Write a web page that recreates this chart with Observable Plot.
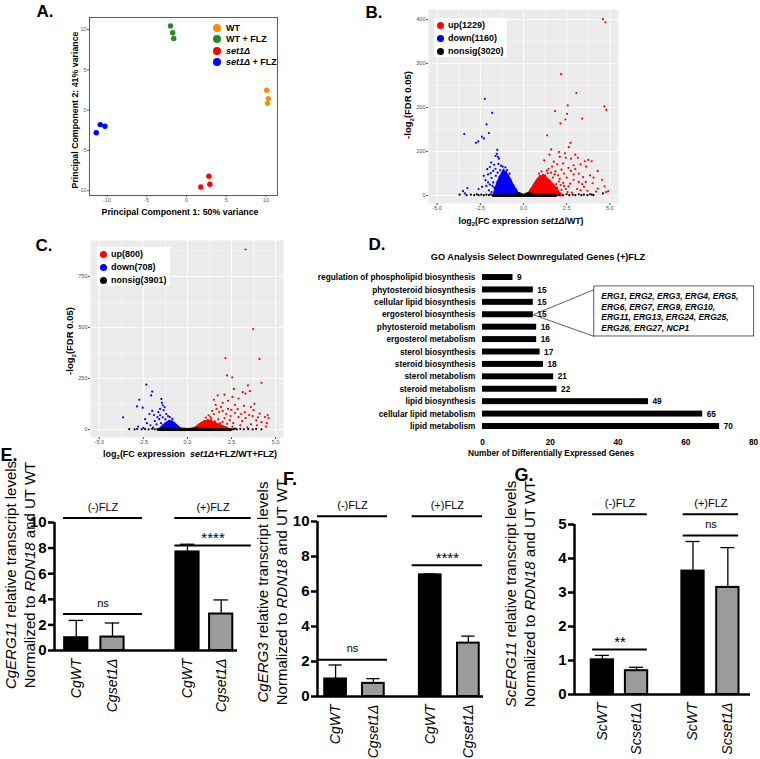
<!DOCTYPE html>
<html><head><meta charset="utf-8">
<script src="https://cdn.jsdelivr.net/npm/d3@7"></script>
<script src="https://cdn.jsdelivr.net/npm/@observablehq/plot@0.6"></script>
<style>
body{margin:0;background:#fff;font-family:"Liberation Sans",Arial,Helvetica,sans-serif;}
#root{position:relative;width:760px;height:759px;overflow:hidden;background:#fff;}
.lbl{position:absolute;white-space:nowrap;line-height:1;}
</style></head><body><div id="root"></div>
<script>
// ---------------- DATA ----------------
// Panel A (PCA)
const pcaGroups = ["WT", "WT + FLZ", "set1Δ", "set1Δ + FLZ"];
const pcaGroupOf = ["WT","WT","WT","WT + FLZ","WT + FLZ","WT + FLZ","set1Δ","set1Δ","set1Δ","set1Δ + FLZ","set1Δ + FLZ","set1Δ + FLZ"];
const pcaPC1 = [10.1, 10.3, 10.2, -2.0, -1.73, -1.6, 2.83, 2.95, 1.81, -10.85, -10.25, -11.35];
const pcaPC2 = [2.46, 1.43, 0.84, 10.46, 9.6, 8.9, -8.2, -9.2, -9.55, -1.8, -2.0, -2.8];
const pcaTicks = [-10, -5, 0, 5, 10];

// Panel B (volcano set1Δ/WT)
const bCounts = {up: 1229, down: 1160, nonsig: 3020};
const bUp = [[4.6,401],[4.74,394],[2.18,276],[3.06,233],[4.68,203],[4.8,195],[2.56,205],[1.83,192],[2.52,186],[3.39,175],[2.43,173],[2.14,164],[1.37,137],[2.72,120],[2.62,110],[1.6,105],[2.05,99],[2.4,96],[3.0,93],[2.1,88],[2.45,86],[2.75,84],[3.15,86],[3.55,78],[3.75,81],[3.95,78],[3.3,71],[3.62,66],[2.9,69],[1.5,93],[1.2,80],[1.75,77],[1.95,71],[2.3,73],[4.3,56],[3.85,46],[4.05,41],[3.2,50],[2.75,56],[2.2,59],[1.85,55],[1.45,61],[4.55,36],[4.7,21],[4.9,10],[4.78,8],[4.3,16],[3.6,31],[3.4,26],[2.9,36],[2.5,41],[2.0,46],[1.7,41],[2.6,21],[3.1,15],[3.7,11],[2.3,29],[1.9,26],[2.2,13],[1.8,11],[2.8,7],[3.2,31],[2.6,63],[1.65,66],[1.4,51],[1.25,46],[2.35,50],[2.9,48],[3.45,42],[3.0,60],[1.55,30],[2.45,15],[3.5,20],[4.0,28],[1.3,20],[1.15,35],[2.05,32],[2.7,27],[3.3,12],[4.2,9],[1.05,55],[1.35,57],[1.6,52],[1.8,48],[2.1,38],[2.35,22],[2.55,8],[0.9,50],[1.95,18],[2.15,24]];
const bUpCore = [[0.15,0],[0.25,5],[0.33,10],[0.42,16],[0.5,20],[0.58,26],[0.66,30],[0.75,36],[0.85,40],[0.95,46],[1.05,44],[1.12,49],[1.2,45],[1.3,43],[1.4,38],[1.5,36],[1.6,31],[1.7,27],[1.8,23],[1.9,17],[2.0,12],[2.1,7],[2.2,3],[2.3,0]];
const bDown = [[-2.24,220],[-1.81,188],[-2.14,162],[-2.0,142],[-3.43,140],[-2.41,134],[-2.62,123],[-2.75,120],[-2.3,130],[-1.52,104],[-1.55,95],[-1.62,90],[-1.48,88],[-1.42,84],[-1.87,75],[-1.7,70],[-1.95,65],[-2.1,60],[-1.75,56],[-2.05,48],[-1.85,40],[-2.2,35],[-1.95,25],[-2.4,20],[-3.25,17],[-3.5,10],[-3.4,5],[-1.45,72],[-1.3,68],[-1.62,61],[-1.9,51],[-2.3,45],[-2.6,15],[-2.0,12],[-1.85,8],[-1.2,66],[-1.05,64],[-1.6,45],[-1.75,30],[-2.15,22],[-1.5,52],[-1.35,58],[-0.95,58],[-0.8,50],[-1.7,18],[-1.8,22],[-2.05,30]];
const bDownCore = [[-0.15,0],[-0.25,4],[-0.35,9],[-0.42,15],[-0.5,18],[-0.58,25],[-0.65,28],[-0.72,36],[-0.8,40],[-0.88,47],[-0.95,50],[-1.02,56],[-1.1,54],[-1.15,60],[-1.22,55],[-1.28,52],[-1.33,46],[-1.4,44],[-1.45,37],[-1.52,33],[-1.57,26],[-1.62,20],[-1.68,13],[-1.72,6],[-1.75,0]];
const bNon = [[-3.7,2],[-3.3,1],[-3.05,2],[-2.85,1],[-2.6,1],[-2.45,2],[-2.3,1],[-2.15,2],[-2.0,1],[-1.9,3],[-1.8,1],[-2.7,3],[2.05,2],[2.3,1],[2.5,3],[2.65,1],[2.85,2],[3.0,1],[3.2,3],[3.35,1],[3.5,2],[3.7,1],[3.85,3],[3.95,2],[4.6,5],[4.05,1],[1.9,1]];
const bNonCore = [[-1.8,-1],[-1.8,3],[-1.0,4],[-0.5,5],[-0.25,7],[0,3],[0.25,7],[0.5,5],[1.0,4],[1.9,3],[1.9,-1]];
const bYTicks = [0, 100, 200, 300, 400];
const bYMinor = [50, 150, 250, 350];

// Panel C (volcano set1Δ+FLZ/WT+FLZ)
const cCounts = {up: 800, down: 708, nonsig: 3901};
const cUp = [[3.3,882],[3.73,492],[2.16,350],[4.09,346],[2.25,265],[2.54,256],[4.2,229],[3.43,216],[2.63,199],[3.54,188],[3.14,183],[3.3,176],[1.72,167],[2.1,171],[2.55,160],[2.9,152],[2.3,141],[3.8,126],[2.0,131],[1.5,146],[1.6,121],[2.7,121],[3.2,116],[3.6,111],[4.4,61],[4.55,71],[4.5,31],[4.45,15],[4.0,60],[3.9,45],[3.7,66],[3.5,71],[3.3,56],[3.1,41],[2.9,61],[2.7,81],[2.5,96],[2.3,101],[2.2,76],[2.0,91],[1.9,111],[1.8,86],[1.65,101],[1.5,76],[1.4,91],[1.3,61],[4.2,36],[3.95,21],[3.6,26],[3.4,11],[3.0,21],[2.6,31],[2.4,46],[2.1,56],[4.6,56],[3.75,95],[2.85,100],[3.25,85],[1.75,50],[1.55,40],[2.45,66],[3.05,76],[4.1,78],[1.2,70],[1.05,58],[1.35,52],[2.0,38],[2.25,28],[1.85,32],[2.55,14]];
const cUpCore = [[0.2,0],[0.28,5],[0.35,8],[0.45,14],[0.55,20],[0.63,26],[0.72,31],[0.8,36],[0.9,40],[0.98,45],[1.08,43],[1.15,49],[1.25,45],[1.35,44],[1.45,38],[1.55,36],[1.65,31],[1.8,27],[1.9,22],[2.05,17],[2.2,12],[2.35,6],[2.5,2],[2.6,0]];
const cDown = [[-2.33,220],[-2.0,186],[-2.06,167],[-2.73,146],[-2.86,113],[-2.54,107],[-3.65,60],[-1.48,150],[-1.45,131],[-1.4,119],[-1.55,101],[-1.35,95],[-2.0,91],[-2.15,76],[-1.9,71],[-1.7,61],[-1.6,51],[-1.2,76],[-1.1,66],[-2.8,15],[-2.3,31],[-2.1,21],[-1.85,41],[-1.5,31],[-1.0,61],[-2.4,51],[-1.3,110],[-1.65,85],[-1.75,25],[-1.25,50],[-1.95,10],[-2.5,8],[-0.85,52],[-1.55,70],[-1.4,60]];
const cDownCore = [[-0.3,0],[-0.38,5],[-0.45,10],[-0.52,17],[-0.6,24],[-0.68,29],[-0.75,35],[-0.82,38],[-0.9,44],[-0.97,42],[-1.03,46],[-1.1,41],[-1.18,37],[-1.25,33],[-1.32,27],[-1.4,23],[-1.47,15],[-1.55,10],[-1.6,3],[-1.58,0]];
const cNon = [[-3.3,2],[-3.0,1],[-2.85,3],[-2.6,1],[-2.4,2],[-2.2,1],[-2.0,3],[-1.85,1],[-1.7,2],[2.6,2],[2.8,1],[3.0,3],[3.2,1],[3.45,2],[3.7,1],[3.9,3],[4.2,1],[2.7,4]];
const cNonCore = [[-1.7,-3],[-1.7,4],[-0.9,6],[-0.4,8],[0,5],[0.4,8],[0.9,6],[2.5,4],[2.5,-3]];
const cYTicks = [0, 250, 500, 750];
const cYMinor = [125, 375, 625, 875];
const volcXTicks = [-5, -2.5, 0, 2.5, 5];
const volcXMinor = [-3.75, -1.25, 1.25, 3.75];

// Panel D (GO analysis)
const goTerms = ["regulation of phospholipid biosynthesis","phytosteroid biosynthesis","cellular lipid biosynthesis","ergosterol biosynthesis","phytosteroid metabolism","ergosterol metabolism","sterol biosynthesis","steroid biosynthesis","sterol metabolism","steroid metabolism","lipid biosynthesis","cellular lipid metabolism","lipid metabolism"];
const goCounts = [9, 15, 15, 15, 16, 16, 17, 18, 21, 22, 49, 65, 70];
const goTicks = [0, 20, 40, 60, 80];
const goCalloutTerm = "ergosterol biosynthesis";
const goCalloutGenes = ["ERG1, ERG2, ERG3, ERG4, ERG5,", "ERG6, ERG7, ERG9, ERG10,", "ERG11, ERG13, ERG24, ERG25,", "ERG26, ERG27, NCP1"];

// Panels E, F, G (qPCR)
const eCats = ["CgWT", "Cgset1Δ", "CgWT", "Cgset1Δ"];
const eMeans = [1.0, 1.05, 7.7, 2.85];
const eErrTop = [2.35, 2.15, 8.3, 3.95];
const fCats = ["CgWT", "Cgset1Δ", "CgWT", "Cgset1Δ"];
const fMeans = [1.0, 0.75, 6.95, 3.05];
const fErrTop = [1.8, 1.02, 7.0, 3.45];
const gCats = ["ScWT", "Scset1Δ", "ScWT", "Scset1Δ"];
const gMeans = [1.02, 0.7, 3.63, 3.15];
const gErrTop = [1.15, 0.8, 4.5, 4.32];
const eTicks = [0, 2, 4, 6, 8, 10];
const fTicks = [0, 2, 4, 6, 8, 10];
const gTicks = [0, 1, 2, 3, 4, 5];
const eSig = [{t:"(-)FLZ", y:10.35, a:0, b:1}, {t:"(+)FLZ", y:10.35, a:2, b:3}, {t:"****", y:8.2, a:2, b:3}, {t:"ns", y:2.85, a:0, b:1}];
const fSig = [{t:"(-)FLZ", y:10.3, a:0, b:1}, {t:"(+)FLZ", y:10.3, a:2, b:3}, {t:"****", y:7.5, a:2, b:3}, {t:"ns", y:2.1, a:0, b:1}];
const gSig = [{t:"(-)FLZ", y:5.3, a:0, b:1}, {t:"(+)FLZ", y:5.3, a:2, b:3}, {t:"ns", y:4.68, a:2, b:3}, {t:"**", y:1.32, a:0, b:1}];

// ---------------- HELPERS ----------------
const FONT = '"Liberation Sans", Arial, Helvetica, sans-serif';
const root = document.getElementById("root");
function put(node, left, top) {
  node.style.position = "absolute"; node.style.left = left + "px"; node.style.top = top + "px";
  root.appendChild(node); return node;
}
function label(html, cx, cy, o = {}) {
  const d = document.createElement("div");
  d.className = "lbl";
  d.innerHTML = html;
  d.style.fontSize = (o.size || 9) + "px";
  d.style.fontWeight = o.weight || "bold";
  if (o.lh) d.style.lineHeight = o.lh + "px";
  d.style.textAlign = "center";
  d.style.color = o.color || "#000";
  d.style.transform = "translate(-50%,-50%)" + (o.rot ? " rotate(-90deg)" : "");
  d.style.left = cx + "px"; d.style.top = cy + "px";
  root.appendChild(d); return d;
}
const baseStyle = {fontFamily: FONT, background: "none", overflow: "visible"};
const pts = a => a.map(([x, y]) => ({x, y}));
const fmtInt = d => String(d);

// ---------------- PANEL A ----------------
const pcaColor = {"WT": "#ff8c00", "WT + FLZ": "#228b22", "set1Δ": "#ff0000", "set1Δ + FLZ": "#0000ff"};
const pcaRows = pcaPC1.map((v, i) => ({pc1: v, pc2: pcaPC2[i], g: pcaGroupOf[i]}));
put(Plot.plot({
  width: 260, height: 220, marginLeft: 59, marginRight: 13, marginTop: 17, marginBottom: 25,
  x: {domain: [-12.2, 11.46]}, y: {domain: [-10.6, 11.5]},
  style: baseStyle,
  marks: [
    Plot.frame({stroke: "#333", strokeWidth: 0.8}),
    Plot.axisX({ticks: pcaTicks, tickFormat: fmtInt, tickSize: 2, tickPadding: 1, fontSize: 5.5, color: "#555", label: null}),
    Plot.axisY({ticks: pcaTicks, tickFormat: fmtInt, tickSize: 2, tickPadding: 1, fontSize: 5.5, color: "#555", label: null}),
    Plot.dot(pcaRows, {x: "pc1", y: "pc2", r: 2.7, fill: d => pcaColor[d.g], stroke: "none"})
  ]
}), 30, 0);
label("A.", 45, 11, {size: 17});
label("Principal Component 2: 41% variance", 75, 110, {size: 8.8, rot: true});
label("Principal Component 1: 50% variance", 180, 212, {size: 8.8});
pcaGroups.forEach((g, i) => {
  const y = 28 + i * 11.4;
  const c = document.createElement("div");
  c.style.cssText = `width:8px;height:8px;border-radius:50%;background:${pcaColor[g]}`;
  put(c, 213, y - 4);
  const html = g.startsWith("set1Δ") ? "<i>set1Δ</i>" + g.slice(5) : g;
  const t = label(html, 0, y, {size: 9});
  t.style.transform = "translate(0,-50%)"; t.style.left = "226px";
});

// ---------------- VOLCANO HELPER ----------------
function volcano(cfg) {
  return Plot.plot({
    width: cfg.w, height: cfg.h, marginLeft: cfg.ml, marginRight: cfg.mr, marginTop: cfg.mt, marginBottom: cfg.mb,
    x: {domain: cfg.xd}, y: {domain: cfg.yd},
    style: baseStyle,
    marks: [
      Plot.frame({fill: "#ebebeb", stroke: "none"}),
      Plot.ruleX(volcXMinor, {stroke: "#fff", strokeWidth: 0.45}),
      Plot.ruleY(cfg.yMinor, {stroke: "#fff", strokeWidth: 0.45}),
      Plot.ruleX(volcXTicks, {stroke: "#fff", strokeWidth: 0.9}),
      Plot.ruleY(cfg.yTicks, {stroke: "#fff", strokeWidth: 0.9}),
      Plot.axisX({ticks: volcXTicks, tickFormat: d => d.toFixed(1), tickSize: 2, tickPadding: 1, fontSize: 5.5, color: "#4d4d4d", label: null}),
      Plot.axisY({ticks: cfg.yTicks, tickFormat: fmtInt, tickSize: 2, tickPadding: 1, fontSize: 5.5, color: "#4d4d4d", label: null}),
      Plot.line(pts(cfg.upCore), {x: "x", y: "y", curve: "linear-closed", fill: "#ff0000", stroke: "#ff0000", strokeWidth: 1.2}),
      Plot.line(pts(cfg.downCore), {x: "x", y: "y", curve: "linear-closed", fill: "#0000ff", stroke: "#0000ff", strokeWidth: 1.2}),
      Plot.dot(pts(cfg.up), {x: "x", y: "y", r: 1.1, fill: "#ff0000", stroke: "none"}),
      Plot.dot(pts(cfg.down), {x: "x", y: "y", r: 1.1, fill: "#0000ff", stroke: "none"}),
      Plot.line(pts(cfg.nonCore), {x: "x", y: "y", curve: "linear-closed", fill: "#000", stroke: "#000", strokeWidth: 1}),
      Plot.dot(pts(cfg.non), {x: "x", y: "y", r: 1.1, fill: "#000", stroke: "none"})
    ]
  });
}
function volcLegend(counts, left, top) {
  const box = document.createElement("div");
  box.style.cssText = "width:73px;height:39px;background:#fff;";
  put(box, left, top);
  [["up", "#ff0000"], ["down", "#0000ff"], ["nonsig", "#000"]].forEach(([k, col], i) => {
    const y = top + 7 + i * 13;
    const c = document.createElement("div");
    c.style.cssText = `width:7px;height:7px;border-radius:50%;background:${col}`;
    put(c, left + 3, y - 3.5);
    const t = label(`${k}(${counts[k]})`, 0, y, {size: 9});
    t.style.transform = "translate(0,-50%)"; t.style.left = (left + 14) + "px";
  });
}

// ---------------- PANEL B ----------------
put(volcano({w: 250, h: 215, ml: 48, mr: 12, mt: 9, mb: 12, xd: [-5.5, 5.5], yd: [-18, 423],
  yTicks: bYTicks, yMinor: bYMinor, up: bUp, upCore: bUpCore, down: bDown, downCore: bDownCore, non: bNon, nonCore: bNonCore}), 380, 0);
volcLegend(bCounts, 434, 18);
label("B.", 374, 12, {size: 17});
label("-log<sub style='font-size:6px'>2</sub>(FDR 0.05)", 409, 105, {size: 9.5, rot: true});
label("log<sub style='font-size:6px'>2</sub>(FC expression <i>set1Δ</i>/WT)", 521, 222, {size: 8.8});

// ---------------- PANEL C ----------------
put(volcano({w: 250, h: 225, ml: 50, mr: 7, mt: 15, mb: 13, xd: [-5.5, 5.45], yd: [-39, 926],
  yTicks: cYTicks, yMinor: cYMinor, up: cUp, upCore: cUpCore, down: cDown, downCore: cDownCore, non: cNon, nonCore: cNonCore}), 40, 225);
volcLegend(cCounts, 97, 247);
label("C.", 44, 245, {size: 17});
label("-log<sub style='font-size:6px'>2</sub>(FDR 0.05)", 71, 341, {size: 9.5, rot: true});
label("log<sub style='font-size:6px'>2</sub>(FC expression&nbsp; <i>set1Δ</i>+FLZ/WT+FLZ)", 190, 455, {size: 9});

// ---------------- PANEL D ----------------
const goRows = goTerms.map((t, i) => ({term: t, n: goCounts[i], i}));
const ci = goTerms.indexOf(goCalloutTerm);
const callout = {x0: goCounts[ci], y0: ci, bx1: 33, bx2: 80.2, by1: 0.72, by2: 4.75, text: goCalloutGenes.join("\n")};
put(Plot.plot({
  width: 470, height: 230, marginLeft: 192, marginRight: 7, marginTop: 45.8, marginBottom: 22.8,
  x: {domain: [0, 80]}, y: {domain: [12.5, -0.5], axis: null},
  style: baseStyle,
  marks: [
    Plot.rect(goRows, {x1: 0, x2: "n", y1: d => d.i - 0.24, y2: d => d.i + 0.24, fill: "#000"}),
    Plot.text(goRows, {x: "n", y: "i", text: d => String(d.n), dx: 4, textAnchor: "start", fontSize: 8.3, fontWeight: "bold"}),
    Plot.text(goRows, {x: 0, y: "i", text: "term", dx: -7, textAnchor: "end", fontSize: 8.3, fontWeight: "bold"}),
    Plot.axisX({ticks: goTicks, tickFormat: fmtInt, tickSize: 0, tickPadding: 6, fontSize: 8.3, fontWeight: "bold", label: null}),
    Plot.link([callout], {x1: "x0", y1: "y0", x2: "bx1", y2: d => d.by1 + 0.25, stroke: "#333", strokeWidth: 0.8}),
    Plot.link([callout], {x1: "x0", y1: "y0", x2: "bx1", y2: "by2", stroke: "#333", strokeWidth: 0.8}),
    Plot.rect([callout], {x1: "bx1", x2: "bx2", y1: "by1", y2: "by2", fill: "#fff", stroke: "#333", strokeWidth: 0.8}),
    Plot.text([callout], {x: "bx1", y: d => (d.by1 + d.by2) / 2, text: "text", dx: 7, textAnchor: "start", lineHeight: 1.27, fontSize: 8.5, fontWeight: "bold", fontStyle: "italic"})
  ]
}), 290, 225);
label("D.", 377, 244, {size: 17});
label("GO Analysis Select Downregulated Genes (+)FLZ", 538, 258, {size: 9.2});
label("Number of Differentially Expressed Genes", 551, 453, {size: 8.3});

// ---------------- BAR PANELS ----------------
function barPanel(cfg) {
  const rows = cfg.cats.map((c, i) => ({cat: c, mean: cfg.means[i], top: cfg.tops[i], pos: cfg.pos[i], i}));
  const sig = cfg.sig.map(s => ({...s, x1: cfg.pos[s.a] + cfg.sx[0], x2: cfg.pos[s.b] + cfg.sx[1]}));
  const stars = sig.filter(s => s.t.startsWith("*"));
  const words = sig.filter(s => !s.t.startsWith("*"));
  const x0 = cfg.xd[0];
  return Plot.plot({
    width: cfg.w, height: cfg.h, marginLeft: cfg.ml, marginRight: cfg.mr, marginTop: cfg.mt, marginBottom: cfg.mb,
    x: {domain: cfg.xd, axis: null}, y: {domain: [0, cfg.ymax], axis: null},
    style: baseStyle,
    marks: [
      Plot.ruleX(rows, {x: "pos", y1: "mean", y2: "top", strokeWidth: 1.3}),
      Plot.ruleY(rows, {y: "top", x1: d => d.pos - cfg.cap, x2: d => d.pos + cfg.cap, strokeWidth: 1.3}),
      Plot.rect(rows.filter(d => d.i % 2 === 0), {x1: d => d.pos - cfg.hw, x2: d => d.pos + cfg.hw, y1: 0, y2: "mean", fill: "#000", stroke: "#000", strokeWidth: 2}),
      Plot.rect(rows.filter(d => d.i % 2 === 1), {x1: d => d.pos - cfg.hw, x2: d => d.pos + cfg.hw, y1: 0, y2: "mean", fill: "#9c9c9c", stroke: "#000", strokeWidth: 2}),
      Plot.ruleX([x0], {y1: 0, y2: cfg.ymax, strokeWidth: 2.5}),
      Plot.ruleY([0], {x1: x0, x2: cfg.xd[1], strokeWidth: 2.5}),
      Plot.axisY({ticks: cfg.ticks, tickFormat: fmtInt, tickSize: 6, tickPadding: 2, fontSize: 15, fontWeight: "bold", strokeWidth: 2.5, label: null}),
      Plot.text(rows, {x: "pos", y: 0, text: "cat", rotate: -90, textAnchor: "end", dy: 8, fontStyle: "italic", fontSize: 14}),
      Plot.ruleY(sig, {y: "y", x1: "x1", x2: "x2", strokeWidth: 2}),
      Plot.text(words, {x: d => (d.x1 + d.x2) / 2, y: "y", text: "t", dy: -11, fontSize: 11}),
      Plot.text(stars, {x: d => (d.x1 + d.x2) / 2, y: "y", text: "t", dy: -7, fontSize: 15, letterSpacing: 1})
    ]
  });
}

// E
put(barPanel({w: 250, h: 319, ml: 54, mr: 13, mt: 82, mb: 109, xd: [0.4, 5.45], ymax: 10, ticks: eTicks,
  cats: eCats, means: eMeans, tops: eErrTop, pos: [1, 2, 4.07, 5.0], hw: 0.32, cap: 0.2, sig: eSig, sx: [-0.35, 0.83]}), 0, 440);
label("E.", 9, 455, {size: 18});
label("<i>CgERG11</i> relative transcript levels<br>Normalized to <i>RDN18</i> and UT WT", 20, 575, {size: 15, weight: "normal", lh: 19, rot: true});

// F
put(barPanel({w: 250, h: 319, ml: 67, mr: 17, mt: 81, mb: 63, xd: [0.4, 5.45], ymax: 10, ticks: fTicks,
  cats: fCats, means: fMeans, tops: fErrTop, pos: [0.95, 2.1, 3.83, 4.99], hw: 0.33, cap: 0.2, sig: fSig, sx: [-0.55, 0.43]}), 250, 440);
label("F.", 290, 479, {size: 18});
label("<i>CgERG3</i> relative transcript levels<br>Normalized to <i>RDN18</i> and UT WT", 272, 592, {size: 15, weight: "normal", lh: 19, rot: true});

// G
put(barPanel({w: 260, h: 319, ml: 74, mr: 10, mt: 84, mb: 65, xd: [0.4, 5.45], ymax: 5, ticks: gTicks,
  cats: gCats, means: gMeans, tops: gErrTop, pos: [1.2, 2.18, 3.8, 4.8], hw: 0.32, cap: 0.2, sig: gSig, sx: [-0.28, 0.31]}), 500, 440);
label("G.", 524, 475, {size: 18});
label("<i>ScERG11</i> relative transcript levels<br>Normalized to <i>RDN18</i> and UT WT", 520, 594, {size: 15, weight: "normal", lh: 19, rot: true});
</script></body></html>
